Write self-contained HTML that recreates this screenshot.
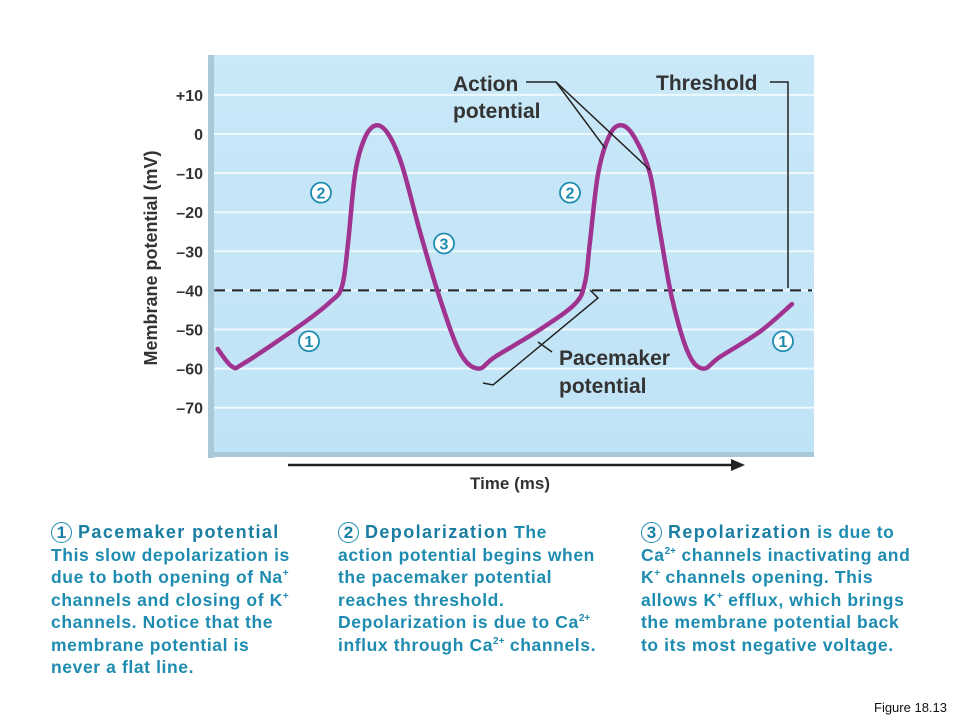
<!DOCTYPE html>
<html><head><meta charset="utf-8"><style>
body{margin:0;background:#fff;width:960px;height:720px;overflow:hidden;font-family:"Liberation Sans",sans-serif;position:relative}
.blk{position:absolute;top:521px;color:#1e8cb0;font-size:17.5px;line-height:22.5px;font-weight:bold;white-space:nowrap;letter-spacing:0.6px}
.blk b{color:#1a7ea3;font-size:18px;letter-spacing:1.4px}
.c{display:inline-block;width:19px;height:19px;border:1.5px solid #1e8cb0;border-radius:50%;text-align:center;line-height:19px;font-size:17px;margin-right:6px;color:#1a7ea3;letter-spacing:0}
sup{font-size:10px;line-height:0;letter-spacing:0}
</style></head><body>
<svg width="960" height="720" style="position:absolute;left:0;top:0" id="svg">
<defs><linearGradient id="bg" x1="0" y1="0" x2="0" y2="1"><stop offset="0" stop-color="#c9e8f8"/><stop offset="1" stop-color="#bfe3f6"/></linearGradient></defs>
<rect x="214" y="55" width="600" height="400" fill="url(#bg)"/>
<rect x="208" y="55" width="6" height="403" fill="#a9c8d8"/>
<rect x="208" y="452" width="606" height="5" fill="#a9c8d8"/>
<g id="grid"></g><g id="ticks"></g>
<text transform="translate(157,258) rotate(-90)" text-anchor="middle" font-size="18" font-weight="bold" fill="#333">Membrane potential (mV)</text>
<line x1="288" y1="465" x2="735" y2="465" stroke="#222" stroke-width="2.5"/>
<polygon points="745,465 731,459 731,471" fill="#222"/>
<text x="510" y="489" text-anchor="middle" font-size="17" font-weight="bold" fill="#333">Time (ms)</text>
<line id="thr" x1="214" x2="812" stroke="#222" stroke-width="2" stroke-dasharray="11,7"/>
<path id="trace" fill="none" stroke="#a0338f" stroke-width="4.5" stroke-linecap="round" stroke-linejoin="round"/>
<g stroke="#222" stroke-width="1.5" fill="none">
<polyline points="526,82 556,82 650,170"/><line x1="556" y1="82" x2="605" y2="148"/>
<polyline points="770,82 788,82 788,288"/>
<polyline points="483,383 493,385 598,298 590,290"/><line x1="538" y1="342" x2="552" y2="352"/>
</g>
<g font-size="21" font-weight="bold" fill="#333">
<text x="453" y="91">Action</text><text x="453" y="118">potential</text>
<text x="656" y="90">Threshold</text>
<text x="559" y="365">Pacemaker</text><text x="559" y="393">potential</text>
</g>
<g id="circles"></g>
<text x="947" y="712" text-anchor="end" font-size="13" fill="#111">Figure 18.13</text>
</svg>
<div class="blk" style="left:51px"><b><span class="c">1</span>Pacemaker potential</b><br>This slow depolarization is<br>due to both opening of Na<sup>+</sup><br>channels and closing of K<sup>+</sup><br>channels. Notice that the<br>membrane potential is<br>never a flat line.</div>
<div class="blk" style="left:338px"><b><span class="c">2</span>Depolarization</b> The<br>action potential begins when<br>the pacemaker potential<br>reaches threshold.<br>Depolarization is due to Ca<sup>2+</sup><br>influx through Ca<sup>2+</sup> channels.</div>
<div class="blk" style="left:641px"><b><span class="c">3</span>Repolarization</b> is due to<br>Ca<sup>2+</sup> channels inactivating and<br>K<sup>+</sup> channels opening. This<br>allows K<sup>+</sup> efflux, which brings<br>the membrane potential back<br>to its most negative voltage.</div>
<script>
const yTicks=[10,0,-10,-20,-30,-40,-50,-60,-70];
const yTickLabels=["+10","0","\u201310","\u201320","\u201330","\u201340","\u201350","\u201360","\u201370"];
const times=[1.3,3.7,5.8,15,20,22,23,24.2,25.8,27.7,29.7,32,35,38.3,41.7,44.7,47.5,55,60.8,62.5,63.3,64.7,66.7,68.7,70.8,73.3,75,77,79.7,82.2,85,91.7,97];
const voltages=[-55,-59.5,-58.5,-49,-43,-39,-28,-10,-1,2.2,0,-8,-25,-42,-56,-60,-57,-50,-43.5,-38,-28,-10,0,2.2,-1,-10,-25,-42,-56,-60,-57,-50.5,-43.5];
const threshold=-40;
const phaseLabels=["2","2","3","1","1"];
const phaseT=[18.5,60,39,16.5,95.5];
const phaseV=[-15,-15,-28,-53,-53];
const NS="http://www.w3.org/2000/svg";
const x=t=>210+t*6, y=v=>134-v*3.91;
const grid=document.getElementById('grid'),ticks=document.getElementById('ticks');
yTicks.forEach((v,i)=>{
 const l=document.createElementNS(NS,'line');
 l.setAttribute('x1',214);l.setAttribute('x2',814);l.setAttribute('y1',y(v));l.setAttribute('y2',y(v));
 l.setAttribute('stroke','#eef8fd');l.setAttribute('stroke-width','2');
 
 
 grid.appendChild(l);
 const t=document.createElementNS(NS,'text');
 t.setAttribute('x',203);t.setAttribute('y',y(v)+6);t.setAttribute('text-anchor','end');
 t.setAttribute('font-size','16');t.setAttribute('font-weight','bold');t.setAttribute('fill','#333');
 t.textContent=yTickLabels[i];
 
 
 ticks.appendChild(t);
});
const thr=document.getElementById('thr');thr.setAttribute('y1',y(threshold));thr.setAttribute('y2',y(threshold));
const P=times.map((t,i)=>[x(t),y(voltages[i])]);
let d='M'+P[0][0]+','+P[0][1];
for(let i=0;i<P.length-1;i++){
 const p0=P[Math.max(0,i-1)],p1=P[i],p2=P[i+1],p3=P[Math.min(P.length-1,i+2)];
 const k=1/6;
 d+=' C'+(p1[0]+(p2[0]-p0[0])*k)+','+(p1[1]+(p2[1]-p0[1])*k)+' '+(p2[0]-(p3[0]-p1[0])*k)+','+(p2[1]-(p3[1]-p1[1])*k)+' '+p2[0]+','+p2[1];
}
document.getElementById('trace').setAttribute('d',d);
const cg=document.getElementById('circles');
phaseLabels.forEach((s,i)=>{
 const g=document.createElementNS(NS,'g');
 
 
 const c=document.createElementNS(NS,'circle');
 c.setAttribute('cx',x(phaseT[i]));c.setAttribute('cy',y(phaseV[i]));c.setAttribute('r',10);
 c.setAttribute('fill','#fff');c.setAttribute('stroke','#1e8cb0');c.setAttribute('stroke-width','1.8');
 const t=document.createElementNS(NS,'text');
 t.setAttribute('x',x(phaseT[i]));t.setAttribute('y',y(phaseV[i])+6);t.setAttribute('text-anchor','middle');
 t.setAttribute('font-size','16');t.setAttribute('font-weight','bold');t.setAttribute('fill','#1e8cb0');
 t.textContent=s;
 g.appendChild(c);g.appendChild(t);cg.appendChild(g);
});
</script>
</body></html>
